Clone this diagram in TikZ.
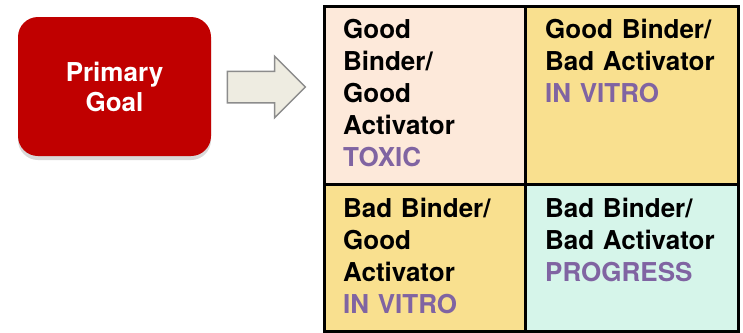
\documentclass[tikz,border=0pt]{standalone}
\usepackage{fontspec}
\setmainfont{TeX Gyre Heros}
\usetikzlibrary{positioning,shapes.arrows,shadows,calc}
\definecolor{goalred}{RGB}{192,0,0}
\definecolor{arrowfill}{RGB}{238,236,225}
\definecolor{arrowgray}{RGB}{140,140,140}
\definecolor{tagpurple}{RGB}{128,100,162}
\definecolor{cellpeach}{RGB}{253,233,218}
\definecolor{cellyellow}{RGB}{249,224,143}
\definecolor{cellmint}{RGB}{214,245,234}

\begin{document}
\begin{tikzpicture}[x=1pt, y=1pt,
  goalbox/.style={fill=goalred, rounded corners=20pt, minimum width=193pt, minimum height=139pt,
    text=white, align=center, font=\fontsize{26}{30}\selectfont\bfseries,
    drop shadow={opacity=0.3, shadow xshift=0pt, shadow yshift=-4pt}},
  arrowblock/.style={single arrow, draw=arrowgray, line width=1.5pt, fill=arrowfill,
    minimum height=78pt, single arrow head extend=15pt,
    single arrow tip angle=90, inner xsep=0pt, inner ysep=15pt},
  cellbox/.style={draw=black, line width=2.5pt, inner sep=0pt, anchor=north west},
  celltext/.style={anchor=base west, text width=185pt, align=left, inner sep=0pt,
    font=\fontsize{26}{32}\selectfont\bfseries}]

\useasboundingbox (0,0) rectangle (743,-332);

\node[goalbox] (goal) at (114.5,-86.5) {Primary\\Goal};
\node[arrowblock] (arr) at (258.5,-87) {};

% quadrant grid
\node[cellbox, fill=cellpeach, minimum width=201pt, minimum height=178pt] (c1) at (323,-5) {};
\node[cellbox, fill=cellyellow, minimum width=213pt, minimum height=178pt] (c2) at (524,-5) {};
\node[cellbox, fill=cellyellow, minimum width=201pt, minimum height=147pt] (c3) at (323,-183) {};
\node[cellbox, fill=cellmint, minimum width=213pt, minimum height=147pt] (c4) at (524,-183) {};

\node[celltext] (t1) at ($(c1.north west)+(20,-33)$)
  {Good\\Binder/\\Good\\Activator\\\textcolor{tagpurple}{TOXIC}};
\node[celltext] (t2) at ($(c2.north west)+(21,-33)$)
  {Good Binder/\\Bad Activator\\\textcolor{tagpurple}{IN VITRO}};
\node[celltext] (t3) at ($(c3.north west)+(20,-34)$)
  {Bad Binder/\\Good\\Activator\\\textcolor{tagpurple}{IN VITRO}};
\node[celltext] (t4) at ($(c4.north west)+(21,-34)$)
  {Bad Binder/\\Bad Activator\\\textcolor{tagpurple}{PROGRESS}};

\end{tikzpicture}
\end{document}
